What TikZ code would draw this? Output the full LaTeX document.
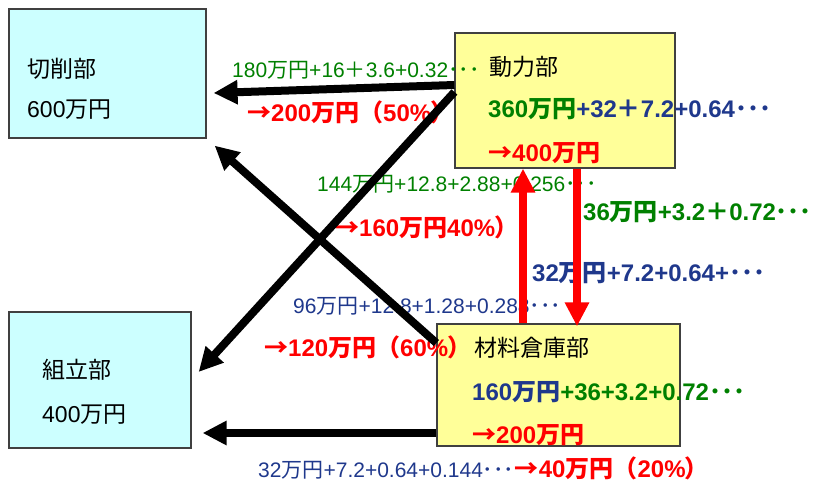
\documentclass[tikz,border=0pt]{standalone}
\usepackage{fontspec}
\setmainfont{Liberation Sans}
\newfontfamily\jp{Noto Sans CJK JP}[RawFeature=+palt]
\newfontfamily\jpfull{Noto Sans CJK JP}
\usetikzlibrary{arrows.meta,calc}

\definecolor{cgreen}{RGB}{0,128,0}
\definecolor{cblue}{RGB}{31,56,140}
\definecolor{cred}{RGB}{255,0,0}
\definecolor{cyanfill}{RGB}{204,255,255}
\definecolor{yelfill}{RGB}{255,255,153}
\definecolor{edge}{RGB}{64,64,64}

% Japanese pieces set in the CJK face
\newcommand\MY{{\jp 万円}}
\newcommand\DT{{\jp ･･･}}
\newcommand\FP{{\jpfull ＋}}
\newcommand\RA{{\jp →}}
\newcommand\LP{{\jpfull （}}
\newcommand\RP{{\jp ）}}

\tikzset{
  dept/.style={draw=edge, line width=1.2pt, inner sep=0pt},
  cutbox/.style={dept, fill=cyanfill},
  powbox/.style={dept, fill=yelfill},
  sm/.style={anchor=base west, inner sep=0pt, font=\fontsize{21}{24}\selectfont},
  bg/.style={anchor=base west, inner sep=0pt, font=\bfseries\fontsize{24}{28}\selectfont},
  lab/.style={anchor=base west, inner sep=0pt, font=\fontsize{23}{28}\selectfont},
  blk/.style={line width=8pt, black, -{Triangle[length=24pt,width=23pt]}},
  redarr/.style={line width=8pt, cred, -{Triangle[length=24pt,width=23pt]}},
}

\begin{document}
\begin{tikzpicture}[x=1pt, y=-1pt]
\useasboundingbox (0,0) rectangle (813,481);

% departments
\node[cutbox, minimum width=197pt, minimum height=129pt] (cut) at (107.5,73.5) {};
\node[cutbox, minimum width=182pt, minimum height=136pt] (asm) at (100,380) {};
\node[powbox, minimum width=220pt, minimum height=135pt] (pow) at (565,100.5) {};
\node[powbox, minimum width=243pt, minimum height=122pt] (mat) at (558.5,385) {};

% department labels
\node[lab] (cutname) at (27,78) {{\jp 切削部}};
\node[lab] (cutcost) at (27,118) {600\MY};
\node[lab] (asmname) at (42,378) {{\jp 組立部}};
\node[lab] (asmcost) at (42,422) {400\MY};
\node[lab] (powname) at (489,76) {{\jp 動力部}};
\node[bg] (powsum) at (488,118) {\textcolor{cgreen}{360\MY}\textcolor{cblue}{+32\FP7.2+0.64\DT}};
\node[bg, cred] (powtot) at (488,162) {\RA400\MY};
\node[lab] (matname) at (474,356) {{\jp 材料倉庫部}};
\node[bg] (matsum) at (472,400) {\textcolor{cblue}{160\MY}\textcolor{cgreen}{+36+3.2+0.72\DT}};
\node[bg, cred] (mattot) at (472,443) {\RA200\MY};

% flow labels
\node[sm, cgreen] (f1) at (232,78) {180\MY+16\FP3.6+0.32\DT};
\node[bg, cred] (f1t) at (247,122) {\RA200\MY\LP50\%\RP};
\node[sm, cgreen] (f2) at (317,192) {144\MY+12.8+2.88+0.256\DT};
\node[bg, cred] (f2t) at (335,236) {\RA160\MY40\%\RP};
\node[bg, cgreen] (f3) at (583,220) {36\MY+3.2\FP0.72\DT};
\node[bg, cblue] (f4) at (532,281) {32\MY+7.2+0.64+\DT};
\node[sm, cblue] (f5) at (293,313) {96\MY+12.8+1.28+0.288\DT};
\node[bg, cred] (f5t) at (264,356) {\RA120\MY\LP60\%\RP};
\node[sm, cblue] (f6) at (258,477) {32\MY+7.2+0.64+0.144\DT};
\node[bg, cred, anchor=base west] (f6t) at (f6.base east) {\RA40\MY\LP20\%\RP};

% cost flows
\draw[blk] (pow.west |- 0,85) -- ($(cut.east |- 0,93)+(7,0)$);
\draw[blk] (pow.west |- 0,92) -- ($(asm.east |- 0,372)+(7,0)$);
\draw[blk] (mat.west |- 0,343) -- ($(cut.south east)+(8,7)$);
\draw[blk] (mat.west |- 0,433) -- ($(asm.east |- 0,433)+(11,0)$);
\draw[redarr] (mat.north -| 523,0) -- (pow.south -| 523,0);
\draw[redarr] (pow.south -| 577,0) -- ($(mat.north -| 577,0)+(0,3)$);
\end{tikzpicture}
\end{document}
